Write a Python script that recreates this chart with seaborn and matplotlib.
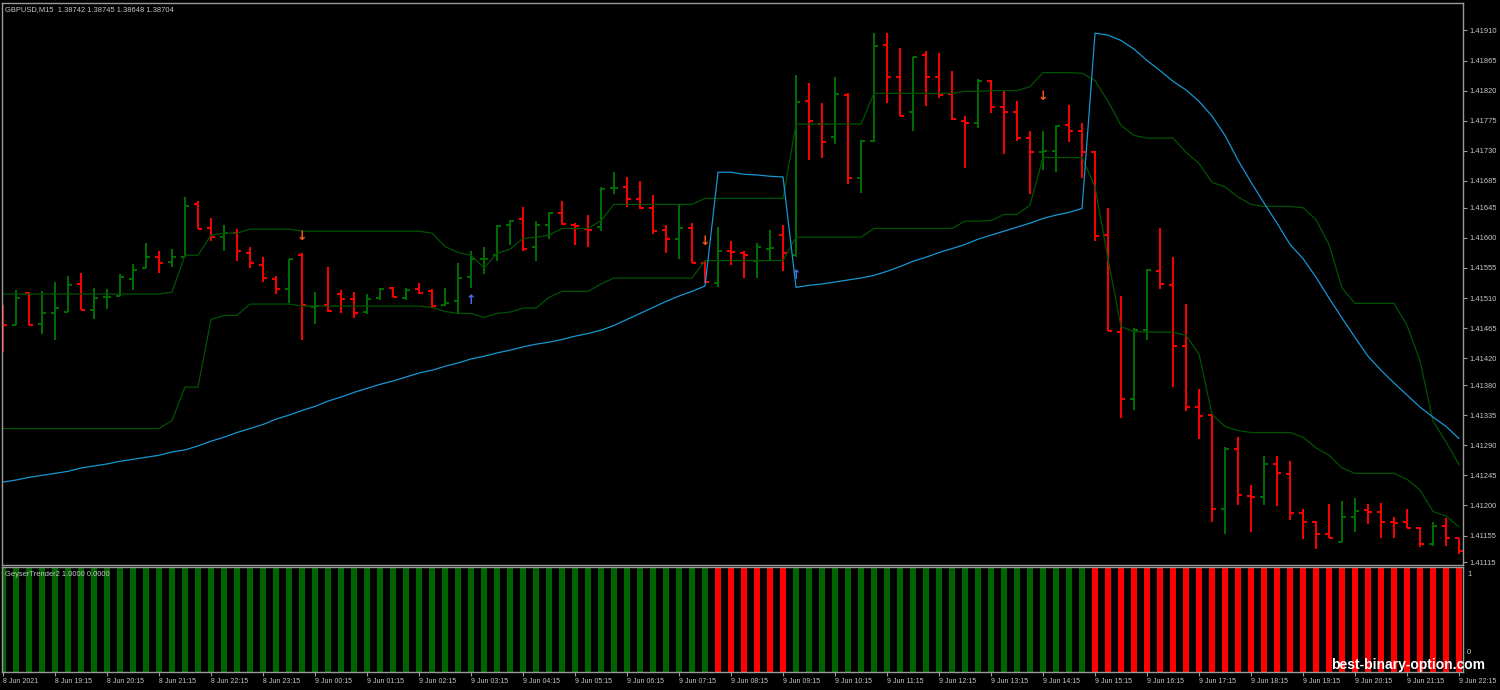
import numpy as np
import pandas as pd
import seaborn as sns
import matplotlib.pyplot as plt

# GBPUSD M15, 8 Jun 2021 18:15 -> 9 Jun 2021 22:15 (one bar every 15 min)
opens = [
    1.41495, 1.41469, 1.41517, 1.41471, 1.41487, 1.41489, 1.41531, 1.41492, 1.41511, 1.41513,
    1.41538, 1.41555, 1.41572, 1.41564, 1.41572, 1.41650, 1.41614, 1.41601, 1.41607, 1.41578,
    1.41559, 1.41538, 1.41523, 1.41574, 1.41496, 1.41499, 1.41516, 1.41508, 1.41489, 1.41510,
    1.41525, 1.41510, 1.41523, 1.41520, 1.41499, 1.41505, 1.41541, 1.41568, 1.41575, 1.41619,
    1.41628, 1.41586, 1.41619, 1.41637, 1.41619, 1.41613, 1.41616, 1.41674, 1.41676, 1.41658,
    1.41644, 1.41611, 1.41599, 1.41614, 1.41562, 1.41532, 1.41580, 1.41578, 1.41566, 1.41584,
    1.41604, 1.41575, 1.41804, 1.41770, 1.41750, 1.41813, 1.41689, 1.41744, 1.41888, 1.41840,
    1.41788, 1.41873, 1.41840, 1.41815, 1.41774, 1.41771, 1.41835, 1.41795, 1.41788, 1.41749,
    1.41729, 1.41730, 1.41768, 1.41759, 1.41728, 1.41604, 1.41459, 1.41359, 1.41462, 1.41551,
    1.41529, 1.41439, 1.41347, 1.41335, 1.41194, 1.41284, 1.41214, 1.41212, 1.41262, 1.41247,
    1.41188, 1.41176, 1.41158, 1.41146, 1.41182, 1.41193, 1.41190, 1.41175, 1.41175, 1.41167,
    1.41143, 1.41170, 1.41151]
highs = [
    1.41499, 1.41522, 1.41519, 1.41520, 1.41534, 1.41543, 1.41547, 1.41525, 1.41523, 1.41546,
    1.41561, 1.41592, 1.41580, 1.41583, 1.41661, 1.41655, 1.41629, 1.41619, 1.41613, 1.41586,
    1.41572, 1.41543, 1.41569, 1.41577, 1.41519, 1.41556, 1.41522, 1.41519, 1.41516, 1.41525,
    1.41527, 1.41525, 1.41532, 1.41523, 1.41525, 1.41562, 1.41581, 1.41586, 1.41619, 1.41626,
    1.41646, 1.41625, 1.41638, 1.41655, 1.41622, 1.41634, 1.41676, 1.41698, 1.41691, 1.41685,
    1.41664, 1.41619, 1.41650, 1.41622, 1.41566, 1.41616, 1.41595, 1.41580, 1.41593, 1.41611,
    1.41619, 1.41844, 1.41831, 1.41801, 1.41840, 1.41816, 1.41746, 1.41906, 1.41906, 1.41883,
    1.41871, 1.41879, 1.41877, 1.41850, 1.41782, 1.41838, 1.41836, 1.41821, 1.41804, 1.41759,
    1.41759, 1.41768, 1.41798, 1.41771, 1.41730, 1.41644, 1.41513, 1.41465, 1.41553, 1.41614,
    1.41572, 1.41501, 1.41374, 1.41337, 1.41288, 1.41302, 1.41230, 1.41274, 1.41274, 1.41266,
    1.41194, 1.41177, 1.41202, 1.41206, 1.41211, 1.41202, 1.41203, 1.41182, 1.41194, 1.41168,
    1.41176, 1.41181, 1.41152]
lows = [
    1.41429, 1.41469, 1.41469, 1.41457, 1.41448, 1.41489, 1.41492, 1.41478, 1.41493, 1.41513,
    1.41522, 1.41555, 1.41547, 1.41556, 1.41572, 1.41613, 1.41595, 1.41580, 1.41566, 1.41555,
    1.41534, 1.41516, 1.41502, 1.41448, 1.41471, 1.41489, 1.41487, 1.41480, 1.41486, 1.41507,
    1.41511, 1.41507, 1.41516, 1.41496, 1.41498, 1.41487, 1.41525, 1.41546, 1.41566, 1.41589,
    1.41581, 1.41565, 1.41598, 1.41619, 1.41590, 1.41586, 1.41610, 1.41665, 1.41646, 1.41643,
    1.41605, 1.41578, 1.41569, 1.41562, 1.41532, 1.41526, 1.41559, 1.41540, 1.41540, 1.41565,
    1.41550, 1.41572, 1.41717, 1.41719, 1.41740, 1.41680, 1.41667, 1.41743, 1.41801, 1.41782,
    1.41759, 1.41797, 1.41809, 1.41776, 1.41704, 1.41764, 1.41786, 1.41726, 1.41744, 1.41665,
    1.41701, 1.41698, 1.41743, 1.41689, 1.41596, 1.41460, 1.41330, 1.41342, 1.41448, 1.41523,
    1.41377, 1.41341, 1.41299, 1.41176, 1.41158, 1.41200, 1.41160, 1.41200, 1.41199, 1.41178,
    1.41150, 1.41135, 1.41151, 1.41145, 1.41161, 1.41172, 1.41152, 1.41152, 1.41167, 1.41138,
    1.41139, 1.41139, 1.41127]
closes = [
    1.41469, 1.41510, 1.41469, 1.41487, 1.41495, 1.41529, 1.41492, 1.41510, 1.41512, 1.41541,
    1.41552, 1.41571, 1.41562, 1.41572, 1.41647, 1.41613, 1.41601, 1.41607, 1.41580, 1.41562,
    1.41540, 1.41523, 1.41568, 1.41499, 1.41498, 1.41490, 1.41508, 1.41487, 1.41508, 1.41523,
    1.41511, 1.41522, 1.41517, 1.41498, 1.41502, 1.41540, 1.41568, 1.41569, 1.41617, 1.41625,
    1.41584, 1.41619, 1.41637, 1.41620, 1.41617, 1.41612, 1.41673, 1.41675, 1.41658, 1.41644,
    1.41610, 1.41599, 1.41614, 1.41562, 1.41534, 1.41580, 1.41579, 1.41574, 1.41586, 1.41585,
    1.41577, 1.41803, 1.41774, 1.41743, 1.41815, 1.41689, 1.41744, 1.41886, 1.41840, 1.41782,
    1.41870, 1.41840, 1.41813, 1.41777, 1.41771, 1.41835, 1.41795, 1.41788, 1.41749, 1.41729,
    1.41730, 1.41767, 1.41759, 1.41729, 1.41602, 1.41460, 1.41359, 1.41462, 1.41552, 1.41531,
    1.41439, 1.41347, 1.41333, 1.41194, 1.41285, 1.41215, 1.41212, 1.41262, 1.41248, 1.41188,
    1.41176, 1.41158, 1.41151, 1.41182, 1.41191, 1.41190, 1.41175, 1.41174, 1.41167, 1.41143,
    1.41170, 1.41151, 1.41132]

# channel lines (dark green) and trailing line (blue)
band_upper = [
    1.41516, 1.41516, 1.41516, 1.41516, 1.41516, 1.41516, 1.41516, 1.41516, 1.41516, 1.41516,
    1.41516, 1.41516, 1.41516, 1.41519, 1.41574, 1.41574, 1.41604, 1.41607, 1.41607, 1.41613,
    1.41613, 1.41613, 1.41613, 1.41610, 1.41610, 1.41610, 1.41610, 1.41610, 1.41610, 1.41610,
    1.41610, 1.41610, 1.41610, 1.41607, 1.41587, 1.41578, 1.41574, 1.41555, 1.41577, 1.41583,
    1.41599, 1.41601, 1.41604, 1.41614, 1.41614, 1.41614, 1.41626, 1.41650, 1.41650, 1.41650,
    1.41650, 1.41650, 1.41650, 1.41650, 1.41659, 1.41659, 1.41659, 1.41659, 1.41659, 1.41659,
    1.41659, 1.41770, 1.41770, 1.41770, 1.41770, 1.41770, 1.41770, 1.41816, 1.41816, 1.41816,
    1.41816, 1.41816, 1.41816, 1.41816, 1.41819, 1.41819, 1.41820, 1.41820, 1.41820, 1.41826,
    1.41847, 1.41847, 1.41847, 1.41846, 1.41835, 1.41804, 1.41768, 1.41753, 1.41749, 1.41749,
    1.41749, 1.41728, 1.41711, 1.41683, 1.41676, 1.41661, 1.41650, 1.41647, 1.41647, 1.41647,
    1.41645, 1.41627, 1.41590, 1.41525, 1.41502, 1.41502, 1.41502, 1.41502, 1.41469, 1.41416,
    1.41326, 1.41295, 1.41261]
band_lower = [
    1.41315, 1.41315, 1.41315, 1.41315, 1.41315, 1.41315, 1.41315, 1.41315, 1.41315, 1.41315,
    1.41315, 1.41315, 1.41315, 1.41327, 1.41377, 1.41377, 1.41478, 1.41484, 1.41484, 1.41501,
    1.41501, 1.41501, 1.41501, 1.41498, 1.41498, 1.41498, 1.41498, 1.41498, 1.41498, 1.41498,
    1.41498, 1.41498, 1.41498, 1.41496, 1.41490, 1.41487, 1.41487, 1.41481, 1.41487, 1.41489,
    1.41495, 1.41495, 1.41511, 1.41520, 1.41520, 1.41520, 1.41531, 1.41540, 1.41540, 1.41540,
    1.41540, 1.41540, 1.41540, 1.41540, 1.41566, 1.41566, 1.41566, 1.41566, 1.41566, 1.41566,
    1.41566, 1.41601, 1.41601, 1.41601, 1.41601, 1.41601, 1.41601, 1.41614, 1.41614, 1.41614,
    1.41614, 1.41614, 1.41614, 1.41614, 1.41625, 1.41625, 1.41626, 1.41635, 1.41635, 1.41649,
    1.41720, 1.41720, 1.41720, 1.41720, 1.41676, 1.41568, 1.41467, 1.41460, 1.41459, 1.41459,
    1.41459, 1.41454, 1.41426, 1.41336, 1.41318, 1.41312, 1.41309, 1.41309, 1.41309, 1.41309,
    1.41302, 1.41286, 1.41275, 1.41256, 1.41248, 1.41248, 1.41248, 1.41248, 1.41239, 1.41223,
    1.41191, 1.41184, 1.41168]
trail_line = [
    1.41235, 1.41238, 1.41242, 1.41245, 1.41248, 1.41251, 1.41256, 1.41259, 1.41262, 1.41266,
    1.41269, 1.41272, 1.41275, 1.41280, 1.41283, 1.41289, 1.41296, 1.41302, 1.41309, 1.41315,
    1.41321, 1.41329, 1.41335, 1.41342, 1.41348, 1.41356, 1.41362, 1.41369, 1.41375, 1.41381,
    1.41386, 1.41392, 1.41398, 1.41402, 1.41408, 1.41413, 1.41419, 1.41423, 1.41428, 1.41432,
    1.41437, 1.41441, 1.41444, 1.41448, 1.41453, 1.41457, 1.41462, 1.41469, 1.41478, 1.41487,
    1.41496, 1.41505, 1.41513, 1.41520, 1.41528, 1.41698, 1.41698, 1.41695, 1.41694, 1.41692,
    1.41691, 1.41526, 1.41529, 1.41531, 1.41534, 1.41537, 1.41540, 1.41544, 1.41550, 1.41557,
    1.41565, 1.41571, 1.41578, 1.41584, 1.41590, 1.41598, 1.41604, 1.41610, 1.41616, 1.41622,
    1.41629, 1.41634, 1.41638, 1.41644, 1.41906, 1.41903, 1.41895, 1.41882, 1.41865, 1.41850,
    1.41834, 1.41821, 1.41804, 1.41782, 1.41753, 1.41716, 1.41683, 1.41652, 1.41622, 1.41590,
    1.41569, 1.41541, 1.41510, 1.41480, 1.41451, 1.41423, 1.41402, 1.41383, 1.41365, 1.41347,
    1.41332, 1.41318, 1.41300]

# GeyserTrender2 histogram state per bar
geyser_trend = ['up'] * 55 + ['down'] * 6 + ['up'] * 23 + ['down'] * 29

arrow_down_bars = [23, 54, 80]
arrow_down_prices = [1.41602, 1.41595, 1.41811]
arrow_up_bars = [36, 61]
arrow_up_prices = [1.41507, 1.41544]

price_ticks = [1.41910, 1.41865, 1.41820, 1.41775, 1.41730, 1.41685, 1.41645, 1.41600,
               1.41555, 1.41510, 1.41465, 1.41420, 1.41380, 1.41335, 1.41290, 1.41245,
               1.41200, 1.41155, 1.41115]
time_labels = ['8 Jun 2021', '8 Jun 19:15', '8 Jun 20:15', '8 Jun 21:15', '8 Jun 22:15',
               '8 Jun 23:15', '9 Jun 00:15', '9 Jun 01:15', '9 Jun 02:15', '9 Jun 03:15',
               '9 Jun 04:15', '9 Jun 05:15', '9 Jun 06:15', '9 Jun 07:15', '9 Jun 08:15',
               '9 Jun 09:15', '9 Jun 10:15', '9 Jun 11:15', '9 Jun 12:15', '9 Jun 13:15',
               '9 Jun 14:15', '9 Jun 15:15', '9 Jun 16:15', '9 Jun 17:15', '9 Jun 18:15',
               '9 Jun 19:15', '9 Jun 20:15', '9 Jun 21:15', '9 Jun 22:15']

GREEN = '#006e00'
HIST_GREEN = '#006400'
RED = '#ff0000'
BAND = '#005300'
BLUE = '#1796d2'
TEXT = '#c8c8c8'
FRAME = '#9a9a9a'

sns.set_theme(style='dark', rc={'axes.facecolor': 'black', 'figure.facecolor': 'black',
                                'savefig.facecolor': 'black', 'axes.edgecolor': FRAME,
                                'axes.grid': False})
plt.rcParams['font.family'] = ['Liberation Sans', 'DejaVu Sans']

df = pd.DataFrame({'bar': np.arange(len(opens)), 'open': opens, 'high': highs,
                   'low': lows, 'close': closes, 'upper': band_upper,
                   'lower': band_lower, 'trail': trail_line,
                   'trend': geyser_trend})
df['geyser'] = 1.0

fig = plt.figure(figsize=(15, 6.9), dpi=100)
ax = fig.add_axes([0.001, 0.18116, 0.9743, 0.8145])
ax2 = fig.add_axes([0.001, 0.02609, 0.9743, 0.15217])

# OHLC bars
cols = np.where(df['close'] >= df['open'], GREEN, RED)
ax.vlines(df['bar'], df['low'], df['high'], colors=cols, lw=1.4)
ax.hlines(df['open'], df['bar'] - 0.32, df['bar'], colors=cols, lw=1.4)
ax.hlines(df['close'], df['bar'], df['bar'] + 0.32, colors=cols, lw=1.4)

sns.lineplot(data=df, x='bar', y='upper', color=BAND, linewidth=0.9, ax=ax)
sns.lineplot(data=df, x='bar', y='lower', color=BAND, linewidth=0.9, ax=ax)
sns.lineplot(data=df, x='bar', y='trail', color=BLUE, linewidth=0.9, ax=ax)

for b, p in zip(arrow_down_bars, arrow_down_prices):
    ax.text(b, p, '\u2193', color='#ff5a14', fontsize=9, fontweight='bold',
            ha='center', va='center', family='DejaVu Sans')
for b, p in zip(arrow_up_bars, arrow_up_prices):
    ax.text(b, p, '\u2191', color='#4a6ee6', fontsize=9, fontweight='bold',
            ha='center', va='center', family='DejaVu Sans')

ax.set_xlim(-0.115, 112.3)
ax.set_ylim(1.41111, 1.41951)
ax.set_xlabel('')
ax.set_ylabel('')
ax.set_xticks([])
ax.yaxis.tick_right()
ax.set_yticks(price_ticks)
ax.set_yticklabels([f'{v:.5f}' for v in price_ticks])
ax.tick_params(axis='y', which='both', right=True, left=False, length=3, width=0.8,
               color=FRAME, labelcolor=TEXT, labelsize=5.4, pad=2)

# indicator sub-window
sns.barplot(data=df, x='bar', y='geyser', hue='trend',
            palette={'up': HIST_GREEN, 'down': RED}, dodge=False, width=0.45,
            saturation=1, native_scale=True, legend=False, linewidth=0,
            edgecolor='none', ax=ax2)
ax2.set_xlim(-0.115, 112.3)
ax2.set_ylim(0, 1)
ax2.set_xlabel('')
ax2.set_ylabel('')
ax2.set_yticks([])
ax2.set_xticks(list(range(0, 113, 4)))
ax2.set_xticklabels(time_labels)
for lbl in ax2.get_xticklabels():
    lbl.set_horizontalalignment('left')
ax2.tick_params(axis='x', bottom=True, length=3, width=0.8, color=FRAME,
                labelcolor=TEXT, labelsize=5.0, pad=1)

for a in (ax, ax2):
    a.grid(False)
    for s in a.spines.values():
        s.set_color(FRAME)
        s.set_linewidth(1.0)

fig.text(5 / 1500, 1 - 10 / 690, 'GBPUSD,M15  1.38742 1.38745 1.38648 1.38704',
         color=TEXT, fontsize=5.4, va='center', ha='left')
fig.text(5 / 1500, 1 - 575 / 690, 'GeyserTrender2 1.0000 0.0000',
         color=TEXT, fontsize=5.4, va='center', ha='left')
fig.text(1467 / 1500, 1 - 574 / 690, '1', color=TEXT, fontsize=5.4, va='center', ha='left')
fig.text(1467 / 1500, 1 - 652 / 690, '0', color=TEXT, fontsize=5.4, va='center', ha='left')

fig.text(1408 / 1500, 1 - 665 / 690, 'best-binary-option.com', color='white',
         fontsize=10, fontweight='bold', ha='center', va='center')

fig.savefig('out.png', dpi=100, facecolor='black')
